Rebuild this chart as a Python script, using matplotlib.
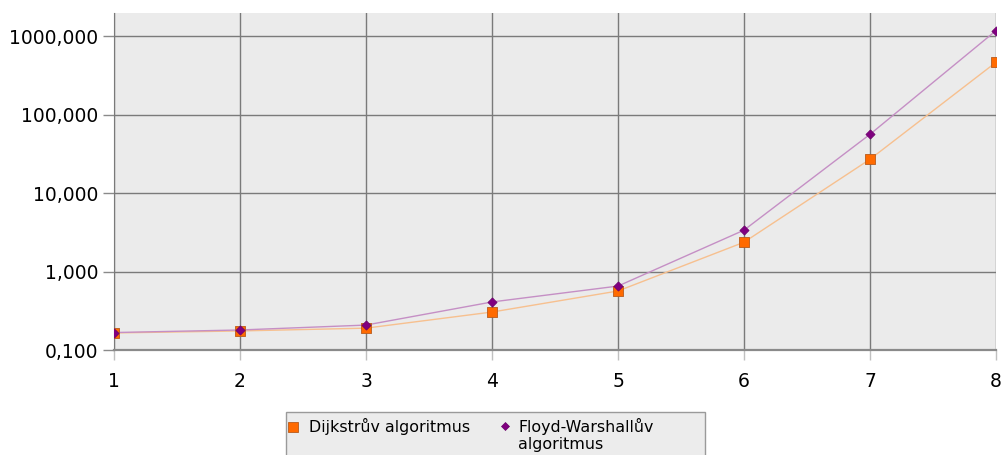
import matplotlib.pyplot as plt
import matplotlib.ticker as mticker
from matplotlib.patches import Rectangle
from matplotlib.lines import Line2D

# data (log scale)
n = [1, 2, 3, 4, 5, 6, 7, 8]
dijkstra = [0.165, 0.175, 0.19, 0.305, 0.566, 2.37, 27.1, 468]
floyd = [0.167, 0.18, 0.208, 0.41, 0.654, 3.38, 56.4, 1186]
labels = ["Dijkstrův algoritmus", "Floyd-Warshallův\nalgoritmus"]

W, H = 1002, 455
fig = plt.figure(figsize=(W / 100, H / 100), dpi=100)
ax = fig.add_axes([114 / W, 1 - 350 / H, 882 / W, 337 / H])
ax.set_facecolor("#ebebeb")

ax.plot(n, dijkstra, color="#f7c08f", lw=1, zorder=3)
ax.plot(n, floyd, color="#c58fc5", lw=1, zorder=3)
ax.scatter(n, dijkstra, marker="s", s=42, color="#ff6a00",
           edgecolors="#b85a1c", linewidths=0.6, zorder=4)
ax.scatter(n, floyd, marker="D", s=22, color="#800080",
           edgecolors="#6a006a", linewidths=0.5, zorder=5)

ax.set_yscale("log")
ax.set_ylim(0.1, 1990)
ax.set_xlim(1, 8)
ax.set_xticks(n)
ax.set_yticks([0.1, 1, 10, 100, 1000])
ax.yaxis.set_minor_locator(mticker.NullLocator())
ax.yaxis.set_major_formatter(mticker.FuncFormatter(lambda v, p: f"{v:.3f}".replace(".", ",")))

ax.grid(True, color="#7a7a7a", lw=1)
ax.set_axisbelow(True)
for s in ["top", "right"]:
    ax.spines[s].set_visible(False)
ax.spines["left"].set_color("#7a7a7a")
ax.spines["bottom"].set_color("#8a8a8a")
ax.spines["bottom"].set_linewidth(1.6)
ax.tick_params(axis="y", length=8, width=1, color="#8a8a8a", labelsize=13.5, pad=3.5)
ax.tick_params(axis="x", length=7.2, width=1, color="#c0c0c0", labelsize=13.5, pad=8.8)

# legend box drawn by hand so the entries line up on the first text line
def fx(x):
    return x / W

def fy(y):
    return 1 - y / H

fig.add_artist(Rectangle((fx(286), fy(470)), fx(705) - fx(286), fy(411.5) - fy(470),
                         transform=fig.transFigure, facecolor="#ececec",
                         edgecolor="#9a9a9a", lw=1, clip_on=False))
fig.add_artist(Line2D([fx(293)], [fy(426.5)], transform=fig.transFigure, marker="s",
                      ms=6.5, color="#ff6a00", mec="#b85a1c", mew=0.6, ls="none"))
fig.add_artist(Line2D([fx(505)], [fy(426)], transform=fig.transFigure, marker="D",
                      ms=4.5, color="#800080", mec="#6a006a", mew=0.5, ls="none"))
fig.text(fx(309), fy(417.5), labels[0], fontsize=11.4, va="top", ha="left")
fig.text(fx(518), fy(417.5), labels[1], fontsize=11.4, va="top", ha="left",
         linespacing=1.2)

fig.savefig("out.png", dpi=100)
